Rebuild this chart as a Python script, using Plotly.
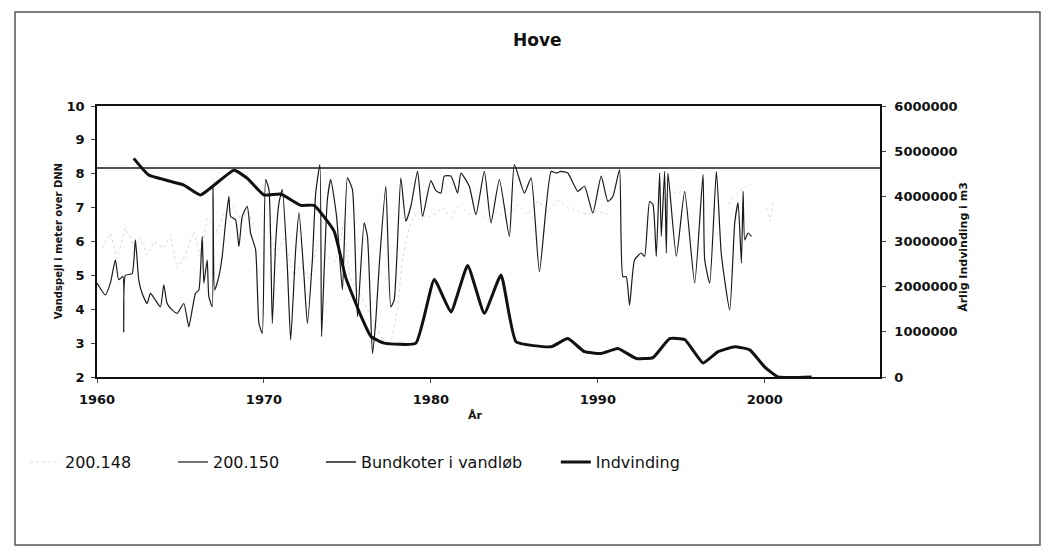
import plotly.graph_objects as go

# 200.150 - pejling (m over DNN)
years_150 = [1960.0, 1960.5, 1960.8, 1961.1, 1961.3, 1961.55, 1961.6, 1961.7, 1962.1, 1962.3,
             1962.5, 1962.7, 1963.0, 1963.2, 1963.5, 1963.8, 1964.0, 1964.2, 1964.5, 1964.8,
             1965.2, 1965.5, 1965.7, 1965.9, 1966.1, 1966.3, 1966.4, 1966.6, 1966.7, 1966.9,
             1966.95, 1967.05, 1967.3, 1967.5, 1967.7, 1967.9, 1968.0, 1968.3, 1968.5, 1968.7,
             1969.0, 1969.2, 1969.5, 1969.7, 1969.9, 1970.1, 1970.3, 1970.5, 1970.7, 1970.9,
             1971.1, 1971.4, 1971.6, 1971.9, 1972.1, 1972.4, 1972.6, 1972.9, 1973.1, 1973.35,
             1973.45, 1973.6, 1973.8, 1974.0, 1974.35, 1974.7, 1975.0, 1975.3, 1975.6, 1976.0,
             1976.2, 1976.5, 1976.7, 1976.9, 1977.3, 1977.6, 1977.8, 1978.2, 1978.5, 1978.8,
             1979.2, 1979.5, 1980.0, 1980.3, 1980.6, 1980.8, 1981.2, 1981.6, 1981.8, 1982.3,
             1982.7, 1983.2, 1983.6, 1984.1, 1984.7, 1985.0, 1985.6, 1986.0, 1986.5, 1987.2,
             1987.5, 1987.8, 1988.2, 1988.8, 1989.2, 1989.7, 1990.2, 1990.6, 1990.9, 1991.3,
             1991.5, 1991.7, 1991.9, 1992.2, 1992.6, 1992.8, 1993.1, 1993.3, 1993.5, 1993.7,
             1993.8, 1994.0, 1994.1, 1994.2, 1994.7, 1995.2, 1995.8, 1996.3, 1996.4, 1996.7,
             1997.1, 1997.4, 1997.9, 1998.2, 1998.4, 1998.6, 1998.7, 1998.8, 1999.0, 1999.2]
level_150 = [4.77, 4.42, 4.77, 5.46, 4.87, 4.97, 3.33, 5.0, 5.05, 6.05,
             4.87, 4.47, 4.17, 4.47, 4.27, 4.07, 4.72, 4.17, 3.98, 3.88,
             4.17, 3.48, 3.98, 4.47, 4.57, 6.15, 4.77, 5.46, 4.37, 4.07,
             7.6, 4.57, 4.97, 5.56, 6.55, 7.33, 6.74, 6.64, 5.85, 6.74,
             7.04, 6.25, 5.76, 3.58, 3.29, 7.83, 7.53, 3.58, 5.95, 7.14,
             7.53, 5.26, 3.09, 5.76, 6.85, 4.97, 3.58, 5.46, 7.43, 8.27,
             3.19, 5.07, 7.24, 7.83, 6.74, 4.57, 7.88, 7.53, 3.78, 6.55,
             6.15, 2.69, 3.68, 5.26, 7.63, 4.07, 4.27, 7.88, 6.6, 7.04,
             8.07, 6.74, 7.8, 7.5, 7.43, 7.93, 7.93, 7.43, 8.02, 7.63,
             6.79, 8.07, 6.55, 7.83, 6.15, 8.27, 7.43, 7.88, 5.11, 8.07,
             8.02, 8.07, 8.02, 7.48, 7.63, 6.84, 7.93, 7.18, 7.33, 8.12,
             4.96, 4.96, 4.12, 5.46, 5.66, 5.56, 7.18, 7.09, 5.56, 8.02,
             6.15, 8.07, 5.66, 8.02, 5.56, 7.48, 4.77, 7.98, 5.46, 4.77,
             8.07, 5.6, 3.98, 6.55, 7.14, 5.36, 7.48, 6.05, 6.25, 6.15]

# 200.148 - svag grå serie (med huller)
years_148 = [1960.3, 1960.8, 1961.2, 1961.7, 1962.2, 1962.6, 1963.0, 1963.4, 1964.0, 1964.4,
             1964.8, 1965.3, 1965.8, 1966.2, 1966.6, 1967.2, 1967.7, 1968.2, 1968.7, 1969.0,
             1969.5, 1969.9, 1970.3, 1970.7, 1971.2, 1971.8, 1972.2, 1972.7, 1973.2, 1973.7,
             1974.3, 1974.8, 1975.1, 1975.5, 1975.9, 1976.4, 1976.8, 1977.2, 1977.6, 1978.0,
             1978.3, 1978.7, 1979.2, 1979.7, 1980.2, 1980.7, 1981.2, 1981.7, 1982.3, 1982.8,
             1983.4, 1983.9, 1984.5, 1985.2, 1985.8, 1986.4, 1987.0, 1987.6, 1988.2, 1988.8,
             1989.4, 1990.0, 1990.6, 1992.0, 1993.6, 1994.2, 1994.8, 1995.3, 1996.5, 1997.8,
             1998.3, 1998.8, 1999.2, 1999.6, 2000.1, 2000.3, 2000.5]
level_148 = [5.8, 6.25, 5.5, 6.4, 5.9, 6.1, 5.6, 6.0, 5.8, 6.2,
             5.2, 5.6, 6.3, 5.5, 6.7, 6.3, 6.9, 7.0, 6.6, 6.9,
             6.4, None, 6.5, 5.6, 6.1, 5.0, 5.3, 4.9, 5.9, 5.6,
             5.4, 6.6, 5.0, 4.6, 4.3, 3.8, 3.4, 3.0, 3.0, 4.0,
             5.5, 6.4, 6.9, 6.7, 6.8, 7.0, 6.7, 7.1, 6.8, 6.9,
             6.6, 6.9, 6.7, 7.1, 6.8, 7.2, 6.9, 7.2, 7.0, 6.9,
             6.8, 6.9, 6.8, None, 7.2, 7.3, 7.5, 7.2, None, 7.1,
             7.4, 7.6, 7.7, None, 7.0, 6.6, 7.2]

# Bundkoter i vandløb
bund_years = [1960, 2007]
bund_level = [8.17, 8.17]

# Årlig indvinding (m3)
years_ind = [1962.2, 1963.1, 1965.2, 1966.2, 1968.2, 1969.0, 1970.0, 1971.0, 1972.2, 1973.0,
             1974.2, 1974.9, 1975.8, 1976.4, 1977.2, 1979.1, 1980.2, 1981.2, 1982.2, 1983.2,
             1984.2, 1985.1, 1987.2, 1988.2, 1989.2, 1990.2, 1991.2, 1992.3, 1993.3, 1994.3,
             1995.2, 1996.3, 1997.2, 1998.2, 1999.1, 2000.0, 2000.8, 2002.8]
indvinding = [4840000, 4470000, 4250000, 4030000, 4580000, 4400000, 4030000, 4050000, 3800000, 3800000,
              3230000, 2200000, 1360000, 900000, 750000, 750000, 2160000, 1440000, 2470000, 1410000,
              2260000, 780000, 670000, 850000, 560000, 520000, 630000, 410000, 430000, 850000,
              830000, 310000, 560000, 670000, 600000, 220000, 0, 0]

FONT = "DejaVu Sans"

fig = go.Figure()
fig.add_trace(go.Scatter(x=years_148, y=level_148, name="200.148", mode="lines", legend="legend",
                         line=dict(color="#dadada", width=1, dash="dot"), connectgaps=False))
fig.add_trace(go.Scatter(x=years_150, y=level_150, name="200.150", mode="lines", legend="legend2",
                         line=dict(color="#1a1a1a", width=1.2, shape="spline", smoothing=0.5)))
fig.add_trace(go.Scatter(x=bund_years, y=bund_level, name="Bundkoter i vandløb", mode="lines",
                         legend="legend3", line=dict(color="#1a1a1a", width=1.5)))
fig.add_trace(go.Scatter(x=years_ind, y=indvinding, name="Indvinding", mode="lines", yaxis="y2",
                         legend="legend4",
                         line=dict(color="#111111", width=3, shape="spline", smoothing=0.4)))

tickfont = dict(family=FONT, size=13, weight="bold", color="#111")
legfont = dict(family=FONT, size=16)
leg_y = -0.314


def legend_at(x):
    return dict(orientation="h", x=x, y=leg_y, xanchor="left", yanchor="middle",
                font=legfont, itemwidth=30, bgcolor="rgba(0,0,0,0)")


fig.update_layout(
    width=1046, height=544,
    paper_bgcolor="white", plot_bgcolor="white",
    margin=dict(l=89, r=174, t=98, b=175, autoexpand=False),
    font=dict(family=FONT, color="#111111", size=12),
    title=dict(text="<b>Hove</b>", x=0.506, xanchor="center", y=0.941, yanchor="middle",
               font=dict(size=17)),
    xaxis=dict(range=[1960, 2006.9], tickvals=[1960, 1970, 1980, 1990, 2000],
               ticks="outside", ticklen=4, showline=True, linecolor="#111", linewidth=1.5,
               mirror=True, showgrid=False, zeroline=False, tickfont=tickfont,
               ticklabelstandoff=6),
    yaxis=dict(range=[2, 10], dtick=1, ticks="outside", ticklen=4, showline=True,
               linecolor="#111", linewidth=1.5, showgrid=False, zeroline=False,
               tickfont=tickfont, ticklabelstandoff=4),
    yaxis2=dict(range=[0, 6000000], dtick=1000000, overlaying="y", side="right",
                ticks="outside", ticklen=4, showline=True, linecolor="#111", linewidth=1.5,
                showgrid=False, zeroline=False, tickformat="d", tickfont=tickfont,
                ticklabelstandoff=6),
    showlegend=True,
    legend=legend_at(-0.092),
    legend2=legend_at(0.097),
    legend3=legend_at(0.286),
    legend4=legend_at(0.586),
    annotations=[
        dict(text="<b>Vandspejl i meter over DNN</b>", xref="paper", yref="paper",
             x=-0.0585, y=0.5, textangle=-90, showarrow=False, font=dict(size=10)),
        dict(text="<b>Årlig Indvinding i m3</b>", xref="paper", yref="paper",
             x=1.118, y=0.48, textangle=-90, showarrow=False, font=dict(size=11)),
        dict(text="<b>År</b>", xref="paper", yref="paper",
             x=0.484, y=-0.173, showarrow=False, font=dict(size=11)),
    ],
    shapes=[dict(type="rect", xref="paper", yref="paper", x0=-0.1047, x1=1.2043,
                 y0=-0.62, y1=1.347, line=dict(color="#555", width=1.5))],
)

fig.write_html("out.html")
